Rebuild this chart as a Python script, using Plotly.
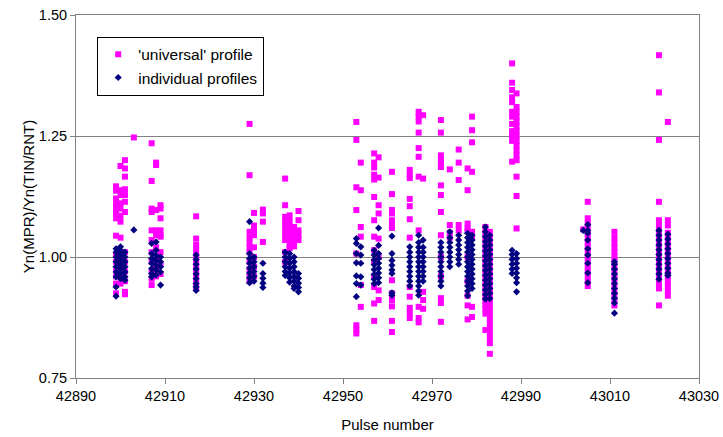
import plotly.graph_objects as go

# Pulse numbers and measured yield ratios for each pulse
universal_pulses = [42899, 42900, 42901, 42903, 42907, 42908, 42909, 42917,
                    42929, 42930, 42932, 42937, 42938, 42939, 42940, 42953,
                    42954, 42957, 42958, 42961, 42965, 42967, 42968, 42972,
                    42974, 42976, 42978, 42979, 42982, 42983, 42988, 42989,
                    43004, 43005, 43011, 43021, 43023]

universal_values = [
    [1.146, 1.137, 1.121, 1.110, 1.100, 1.090, 1.080, 1.044, 1.005, 0.990, 0.975, 0.960, 0.945, 0.925],
    [1.188, 1.138, 1.128, 1.111, 1.100, 1.085, 1.073, 1.040, 1.000, 0.980, 0.960, 0.945],
    [1.200, 1.183, 1.166, 1.140, 1.128, 1.114, 1.093, 1.010, 0.990, 0.970, 0.950, 0.928, 0.923],
    [1.247],
    [1.235, 1.157, 1.100, 1.093, 1.055, 1.035, 1.010, 0.990, 0.970, 0.955, 0.942],
    [1.195, 1.190, 1.097, 1.055, 1.045, 1.020, 0.995, 0.975, 0.960],
    [1.107, 1.100, 1.080, 1.055, 1.045, 1.042, 1.010, 0.985, 0.965],
    [1.084, 1.038, 1.025, 1.015, 1.005, 0.995, 0.985, 0.975, 0.965, 0.955, 0.945, 0.935],
    [1.275, 1.169, 1.052, 1.040, 1.030, 1.020, 1.010, 0.990, 0.975, 0.960, 0.950],
    [1.091, 1.065, 1.055, 1.045, 1.020, 1.000, 0.980, 0.960],
    [1.098, 1.090, 1.073, 1.031],
    [1.162, 1.107, 1.083, 1.075, 1.065, 1.055, 1.045, 1.035, 1.010, 0.990],
    [1.086, 1.075, 1.065, 1.055, 1.045, 1.035, 1.025, 1.018],
    [1.062, 1.052, 1.042, 1.032, 1.022],
    [1.095, 1.076, 1.055, 1.045, 1.035],
    [1.279, 1.242, 1.144, 1.097, 1.007, 0.859, 0.850, 0.842],
    [1.195, 1.138, 1.062, 1.042, 0.942, 0.897],
    [1.214, 1.195, 1.185, 1.170, 1.160, 1.124, 1.076, 1.042, 1.014, 0.990, 0.960, 0.938, 0.904, 0.868],
    [1.206, 1.164, 1.107, 1.090, 1.038, 1.000, 0.931, 0.911],
    [1.176, 1.130, 1.097, 1.090, 1.076, 1.066, 1.060, 0.952, 0.925, 0.918, 0.911, 0.898, 0.868, 0.845],
    [1.180, 1.170, 1.163, 1.120, 1.105, 1.078, 1.040, 0.938, 0.918, 0.895, 0.885, 0.874],
    [1.300, 1.290, 1.280, 1.257, 1.225, 1.207, 1.166, 1.055, 0.897, 0.874, 0.865],
    [1.293, 1.162, 0.928, 0.911, 0.893],
    [1.283, 1.257, 1.210, 1.200, 1.195, 1.186, 1.148, 1.128, 1.093, 1.045, 1.000, 0.960, 0.915, 0.905, 0.866],
    [1.181, 1.066, 1.050, 1.040],
    [1.222, 1.195, 1.159, 1.066, 1.055],
    [1.183, 1.138, 1.069, 1.060, 1.055, 1.000, 0.950, 0.920, 0.900, 0.871],
    [1.290, 1.262, 1.237, 1.176, 1.052, 1.042, 0.897, 0.876],
    [1.062, 1.050, 1.040, 1.030, 1.020, 1.010, 1.000, 0.990, 0.980, 0.970, 0.960, 0.950,
     0.940, 0.930, 0.920, 0.910, 0.900, 0.892, 0.883, 0.849],
    [1.052, 1.042, 1.032, 1.022, 1.012, 1.002, 0.992, 0.982, 0.972, 0.962, 0.952, 0.942,
     0.932, 0.922, 0.912, 0.902, 0.892, 0.882, 0.872, 0.862, 0.852, 0.842, 0.832, 0.822, 0.800],
    [1.400, 1.360, 1.345, 1.330, 1.320, 1.300, 1.290, 1.275, 1.260, 1.255, 1.250, 1.240, 1.197],
    [1.338, 1.310, 1.300, 1.290, 1.280, 1.270, 1.260, 1.250, 1.240, 1.230, 1.220, 1.210,
     1.200, 1.166, 1.126, 1.059],
    [1.057],
    [1.114, 1.080, 1.070, 1.060, 1.050, 1.040, 1.030, 1.020, 1.010, 1.000, 0.990, 0.980,
     0.970, 0.960, 0.950, 0.940],
    [1.052, 1.040, 1.030, 1.020, 1.010, 1.000, 0.990, 0.980, 0.970, 0.960, 0.950, 0.940,
     0.930, 0.920, 0.910, 0.900],
    [1.417, 1.340, 1.242, 1.114, 1.076, 1.065, 1.055, 1.045, 1.035, 1.025, 1.015, 1.005,
     0.995, 0.985, 0.975, 0.965, 0.955, 0.945, 0.935, 0.900],
    [1.279, 1.076, 1.065, 1.050, 1.040, 1.030, 1.020, 1.010, 1.000, 0.990, 0.980, 0.970,
     0.960, 0.950, 0.940, 0.930, 0.920],
]

individual_pulses = [42899, 42900, 42901, 42903, 42907, 42908, 42909, 42917,
                     42929, 42930, 42932, 42937, 42938, 42939, 42940, 42953,
                     42954, 42957, 42958, 42961, 42965, 42967, 42968, 42972,
                     42974, 42976, 42978, 42979, 42982, 42983, 42988, 42989,
                     43004, 43005, 43011, 43021, 43023]

individual_values = [
    [1.017, 1.010, 1.000, 0.990, 0.980, 0.969, 0.959, 0.938, 0.919],
    [1.021, 1.014, 1.005, 0.995, 0.985, 0.975, 0.965, 0.955],
    [1.010, 1.000, 0.990, 0.980, 0.969, 0.959, 0.952],
    [1.056],
    [1.028, 1.007, 0.997, 0.987, 0.976, 0.966, 0.959],
    [1.031, 1.014, 1.003, 0.993, 0.983, 0.973, 0.963],
    [1.000, 0.990, 0.980, 0.969, 0.942],
    [1.004, 0.995, 0.985, 0.975, 0.965, 0.955, 0.945, 0.938, 0.931],
    [1.073, 1.007, 0.997, 0.987, 0.977, 0.967, 0.957, 0.947],
    [1.000, 0.990, 0.980, 0.970, 0.960, 0.950],
    [0.987, 0.966, 0.956, 0.946, 0.937],
    [1.010, 1.000, 0.990, 0.980, 0.970, 0.962],
    [1.007, 0.997, 0.987, 0.977, 0.967, 0.957, 0.948],
    [1.000, 0.990, 0.980, 0.970, 0.960, 0.950, 0.940, 0.935],
    [0.966, 0.956, 0.946, 0.937, 0.928],
    [1.038, 1.028, 1.007, 0.988, 0.961, 0.945, 0.918],
    [1.021, 1.004, 0.987, 0.959, 0.942],
    [1.014, 1.004, 0.994, 0.984, 0.974, 0.964, 0.954, 0.945],
    [1.060, 1.024, 1.007, 0.997, 0.987, 0.977, 0.967, 0.957, 0.947],
    [1.043, 1.007, 0.993, 0.983, 0.973, 0.966, 0.926, 0.921],
    [1.021, 1.010, 1.000, 0.990, 0.980, 0.970, 0.960, 0.950, 0.940],
    [1.045, 1.030, 1.020, 1.010, 1.000, 0.990, 0.980, 0.970, 0.960, 0.950, 0.940, 0.930, 0.921],
    [1.035, 1.020, 1.010, 1.000, 0.990, 0.980, 0.970, 0.960, 0.950],
    [1.030, 1.020, 1.010, 1.000, 0.990, 0.980, 0.970, 0.960, 0.950, 0.940],
    [1.052, 1.040, 1.030, 1.020, 1.010, 1.000, 0.990, 0.980],
    [1.045, 1.035, 1.025, 1.015, 1.005, 0.995, 0.985],
    [1.049, 1.040, 1.030, 1.020, 1.010, 1.000, 0.990, 0.980, 0.970, 0.960, 0.950, 0.940, 0.930, 0.920],
    [1.045, 1.035, 1.025, 1.015, 1.005, 0.995, 0.985, 0.975, 0.965, 0.955, 0.945, 0.935],
    [1.062, 1.052, 1.042, 1.032, 1.022, 1.012, 1.002, 0.992, 0.982, 0.972, 0.962, 0.952,
     0.942, 0.932, 0.922, 0.913],
    [1.045, 1.035, 1.025, 1.015, 1.005, 0.995, 0.985, 0.975, 0.965, 0.955, 0.945, 0.935,
     0.925, 0.914],
    [1.014, 1.005, 0.995, 0.985, 0.975, 0.966],
    [1.007, 0.997, 0.987, 0.977, 0.967, 0.957, 0.947, 0.928],
    [1.055],
    [1.067, 1.055, 1.049, 1.035, 1.017, 1.004, 0.987, 0.967, 0.947],
    [0.990, 0.985, 0.975, 0.965, 0.955, 0.945, 0.935, 0.925, 0.915, 0.905, 0.884],
    [1.055, 1.045, 1.035, 1.025, 1.015, 1.005, 0.995, 0.985, 0.975, 0.965, 0.954],
    [1.047, 1.037, 1.027, 1.017, 1.007, 0.997, 0.987, 0.977, 0.967, 0.962],
]

y_ticks = [0.75, 1.00, 1.25, 1.50]
x_ticks = [42890, 42910, 42930, 42950, 42970, 42990, 43010, 43030]


def flatten(pulses, groups):
    xs, ys = [], []
    for p, vals in zip(pulses, groups):
        for v in vals:
            xs.append(p)
            ys.append(v)
    return xs, ys


ux, uy = flatten(universal_pulses, universal_values)
ix, iy = flatten(individual_pulses, individual_values)

FONT = "Liberation Sans, Arial, sans-serif"
GREY = "#808080"

fig = go.Figure()
fig.add_trace(go.Scatter(
    x=ux, y=uy, mode="markers", name="'universal' profile",
    marker=dict(symbol="square", size=6, color="#FF00FF", line=dict(width=0)),
))
fig.add_trace(go.Scatter(
    x=ix, y=iy, mode="markers", name="individual profiles",
    marker=dict(symbol="diamond", size=5.5, color="#000080", line=dict(width=0)),
))

fig.update_layout(
    width=723, height=437,
    margin=dict(l=76, r=24, t=15, b=59, autoexpand=False),
    paper_bgcolor="white", plot_bgcolor="white",
    font=dict(family=FONT, size=14.5, color="black"),
    showlegend=True,
    legend=dict(
        x=0.034, y=0.94, xanchor="left", yanchor="top",
        bgcolor="white", bordercolor="#000000", borderwidth=1,
        font=dict(family=FONT, size=15.5, color="black"),
        itemwidth=30, tracegroupgap=0,
    ),
    xaxis=dict(
        range=[42890, 43030], tickvals=x_ticks, ticktext=[str(t) for t in x_ticks],
        showgrid=False, zeroline=False, automargin=False,
        showline=True, linecolor=GREY, linewidth=1, mirror=True,
        ticks="outside", ticklen=5, tickcolor=GREY,
        tickfont=dict(size=14.5),
        title=dict(text="Pulse number", standoff=16, font=dict(size=15)),
    ),
    yaxis=dict(
        range=[0.75, 1.50], tickvals=y_ticks, tickformat=".2f",
        showgrid=True, gridcolor=GREY, gridwidth=1, zeroline=False, automargin=False,
        showline=True, linecolor=GREY, linewidth=1, mirror=True,
        ticks="outside", ticklen=5, tickcolor=GREY,
        tickfont=dict(size=14.5),
        title=dict(text="Yn(MPR)/Yn(TIN/RNT)", standoff=0, font=dict(size=15)),
    ),
)

fig.write_html("out.html")
